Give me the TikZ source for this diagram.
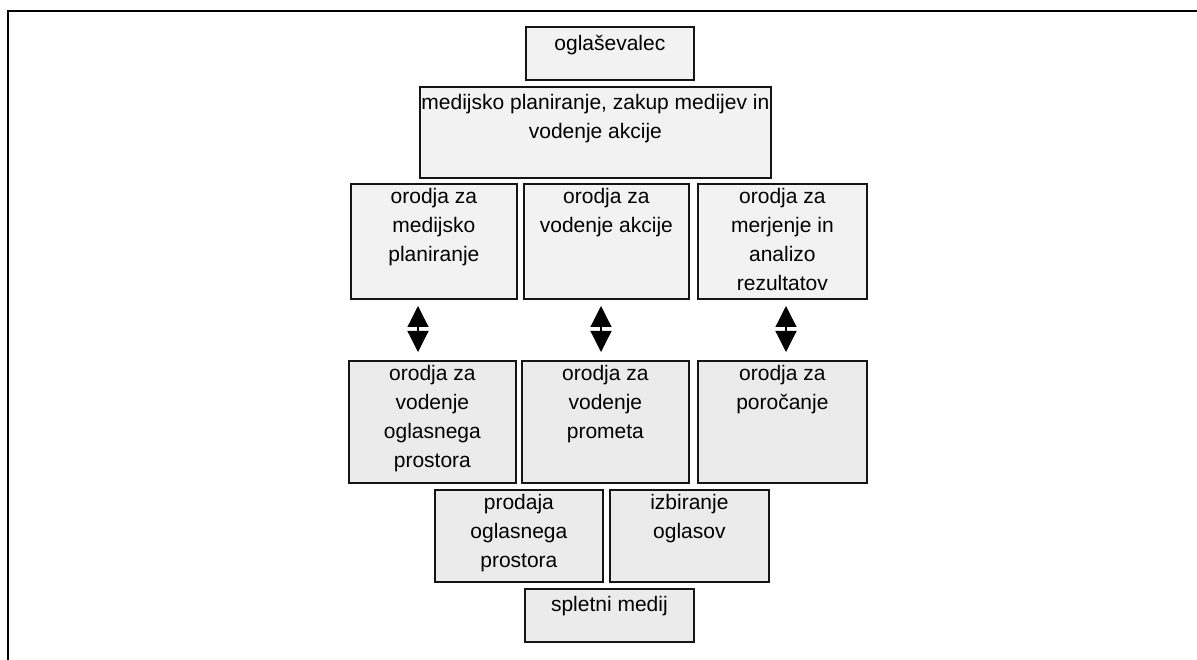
\documentclass[tikz,border=0pt]{standalone}
\usepackage{fontspec}
\setmainfont{Liberation Sans}
\usetikzlibrary{calc,arrows.meta}
\definecolor{boxlight}{HTML}{F2F2F2}
\definecolor{boxdark}{HTML}{EBEBEB}
\definecolor{edge}{HTML}{151515}
\tikzset{
  blok/.style={draw=edge, line width=1.8pt, inner sep=0pt, anchor=north west},
  blokA/.style={blok, fill=boxlight},
  blokB/.style={blok, fill=boxdark},
  % the strut fixes the first baseline 20pt below the top of the label
  lbl/.style={anchor=north, align=center, inner sep=0pt,
    font=\fontsize{21}{28.7}\selectfont,
    execute at begin node={\rule{0pt}{20pt}}},
  twoway/.style={line width=1.2pt,
    {Triangle[length=21pt,width=21pt]}-{Triangle[length=21pt,width=21pt]}},
  frameline/.style={line width=2.3pt, black}
}
\begin{document}
\begin{tikzpicture}[x=1pt,y=-1pt]
\useasboundingbox (0,0) rectangle (1197,660);

% outer frame (only top and left edges fall inside the page)
\coordinate (fTL) at (8,11);
\coordinate (fTR) at (1197,11);
\coordinate (fBL) at (8,660);
\draw[frameline] (fBL) -- (fTL) -- (fTR);

% advertiser and media planning
\node[blokA, minimum width=168pt, minimum height=53pt] (A) at (525,26) {};
\node[lbl] (tA) at ($(A.north)+(0,4)$) {oglaševalec};
\node[blokA, minimum width=351pt, minimum height=91pt] (B) at (419,86) {};
\node[lbl] (tB) at ($(B.north)+(0,8)$) {medijsko planiranje, zakup medijev in\\vodenje akcije};

% advertiser-side tools
\node[blokA, minimum width=166pt, minimum height=115pt] (C1) at (350,183) {};
\node[lbl] (tC1) at ($(C1.north)+(0,5.5)$) {orodja za\\medijsko\\planiranje};
\node[blokA, minimum width=165pt, minimum height=115pt] (C2) at (523,183) {};
\node[lbl] (tC2) at ($(C2.north)+(0,5.5)$) {orodja za\\vodenje akcije};
\node[blokA, minimum width=169pt, minimum height=115pt] (C3) at (697,183) {};
\node[lbl] (tC3) at ($(C3.north)+(0,5.5)$) {orodja za\\merjenje in\\analizo\\rezultatov};

% two-way links
\coordinate (a1t) at (418,306); \coordinate (a1b) at (418,352);
\coordinate (a2t) at (601,306); \coordinate (a2b) at (601,352);
\coordinate (a3t) at (786,306); \coordinate (a3b) at (786,352);
\draw[twoway] (a1t) -- (a1b);
\draw[twoway] (a2t) -- (a2b);
\draw[twoway] (a3t) -- (a3b);

% publisher-side tools
\node[blokB, minimum width=167pt, minimum height=122pt] (D1) at (348,360) {};
\node[lbl] (tD1) at ($(D1.north)+(0,5.5)$) {orodja za\\vodenje\\oglasnega\\prostora};
\node[blokB, minimum width=167pt, minimum height=122pt] (D2) at (521,360) {};
\node[lbl] (tD2) at ($(D2.north)+(0,5.5)$) {orodja za\\vodenje\\prometa};
\node[blokB, minimum width=169pt, minimum height=122pt] (D3) at (697,360) {};
\node[lbl] (tD3) at ($(D3.north)+(0,5.5)$) {orodja za\\poročanje};

% sales and ad selection
\node[blokB, minimum width=168pt, minimum height=92pt] (E1) at (434,489) {};
\node[lbl] (tE1) at ($(E1.north)+(0,5.5)$) {prodaja\\oglasnega\\prostora};
\node[blokB, minimum width=159pt, minimum height=92pt] (E2) at (609,489) {};
\node[lbl] (tE2) at ($(E2.north)+(0,5.5)$) {izbiranje\\oglasov};

% web medium
\node[blokB, minimum width=169pt, minimum height=53pt] (F) at (524,588) {};
\node[lbl] (tF) at ($(F.north)+(0,3.5)$) {spletni medij};
\end{tikzpicture}
\end{document}
